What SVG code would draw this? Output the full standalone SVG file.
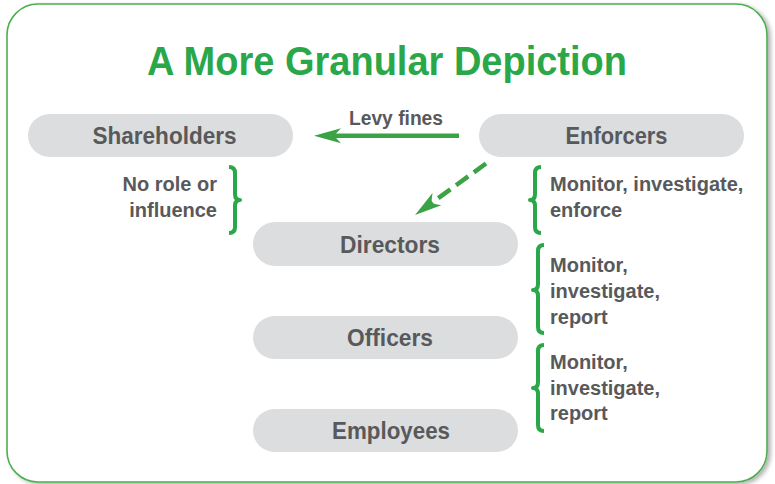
<svg xmlns="http://www.w3.org/2000/svg" width="775" height="484" viewBox="0 0 775 484">
<defs>
<filter id="sh" x="-5%" y="-5%" width="110%" height="110%">
<feDropShadow dx="3" dy="2" stdDeviation="2" flood-color="#000" flood-opacity="0.3"/>
</filter>
<marker id="ah" markerUnits="userSpaceOnUse" viewBox="-28 -9 30 18" markerWidth="30" markerHeight="18" refX="-14" refY="0" orient="auto">
<path d="M0,0 L-27,-7.5 L-20,0 L-27,7.5 Z" fill="#3aa346"/>
</marker>
</defs>
<style>
.node rect{fill:#dcdddf}
.node text{font-family:"Liberation Sans",Arial,sans-serif;font-weight:bold;font-size:24px;fill:#58595b;text-anchor:middle}
.lbl{font-family:"Liberation Sans",Arial,sans-serif;font-weight:bold;font-size:20px;fill:#58595b}
.brace{fill:none;stroke:#2aa748;stroke-width:4;stroke-linejoin:round}
.conn{fill:none;stroke:#3aa346;stroke-width:4.5}
</style>
<rect x="7" y="4" width="760" height="478" rx="31" fill="#fff" stroke="#4caf50" stroke-width="1.6" filter="url(#sh)"/>
<text x="387" y="75" font-family="'Liberation Sans',Arial,sans-serif" font-weight="bold" font-size="41" fill="#2aa748" text-anchor="middle" textLength="480" lengthAdjust="spacingAndGlyphs">A More Granular Depiction</text>

<g id="shareholders" class="node"><rect x="28" y="114" width="265" height="43" rx="21.5"/><text x="164.5" y="144" textLength="144" lengthAdjust="spacingAndGlyphs">Shareholders</text></g>
<g id="enforcers" class="node"><rect x="479" y="114" width="265" height="43" rx="21.5"/><text x="616.5" y="144" textLength="102" lengthAdjust="spacingAndGlyphs">Enforcers</text></g>
<g id="directors" class="node"><rect x="253" y="222" width="265" height="44" rx="22"/><text x="390" y="252.7" textLength="100" lengthAdjust="spacingAndGlyphs">Directors</text></g>
<g id="officers" class="node"><rect x="253" y="316" width="265" height="43" rx="21.5"/><text x="390" y="346" textLength="86" lengthAdjust="spacingAndGlyphs">Officers</text></g>
<g id="employees" class="node"><rect x="253" y="409" width="265" height="43" rx="21.5"/><text x="391" y="439" textLength="118" lengthAdjust="spacingAndGlyphs">Employees</text></g>

<g id="connectors">
<path class="conn" d="M459,135.7 L328,135.7" marker-end="url(#ah)"/>
<text class="lbl" x="349" y="125" font-size="19.5px" textLength="94" lengthAdjust="spacingAndGlyphs">Levy fines</text>
<path class="conn" d="M486,163.5 L426.4,206.8" stroke-width="5" stroke-dasharray="15 7" marker-end="url(#ah)"/>
</g>

<g id="annotations">
<path class="brace" d="M229,167 Q235,167 235,173 L235,194 Q235,200 240,200 Q235,200 235,206 L235,227 Q235,233 229,233"/>
<text class="lbl" text-anchor="end"><tspan x="217" y="191">No role or</tspan><tspan x="217" y="216.5">influence</tspan></text>

<path class="brace" d="M541,167 Q535,167 535,173 L535,194 Q535,200 530,200 Q535,200 535,206 L535,227 Q535,233 541,233"/>
<text class="lbl"><tspan x="550" y="191">Monitor, investigate,</tspan><tspan x="550" y="216.5">enforce</tspan></text>

<path class="brace" d="M544,245 Q538,245 538,251 L538,284 Q538,290 533,290 Q538,290 538,296 L538,327 Q538,333 544,333"/>
<text class="lbl"><tspan x="550" y="272">Monitor,</tspan><tspan x="550" y="298">investigate,</tspan><tspan x="550" y="323.5">report</tspan></text>

<path class="brace" d="M544,345 Q538,345 538,351 L538,382 Q538,388 533,388 Q538,388 538,394 L538,425 Q538,431 544,431"/>
<text class="lbl"><tspan x="550" y="368.5">Monitor,</tspan><tspan x="550" y="394.5">investigate,</tspan><tspan x="550" y="420">report</tspan></text>
</g>
</svg>
